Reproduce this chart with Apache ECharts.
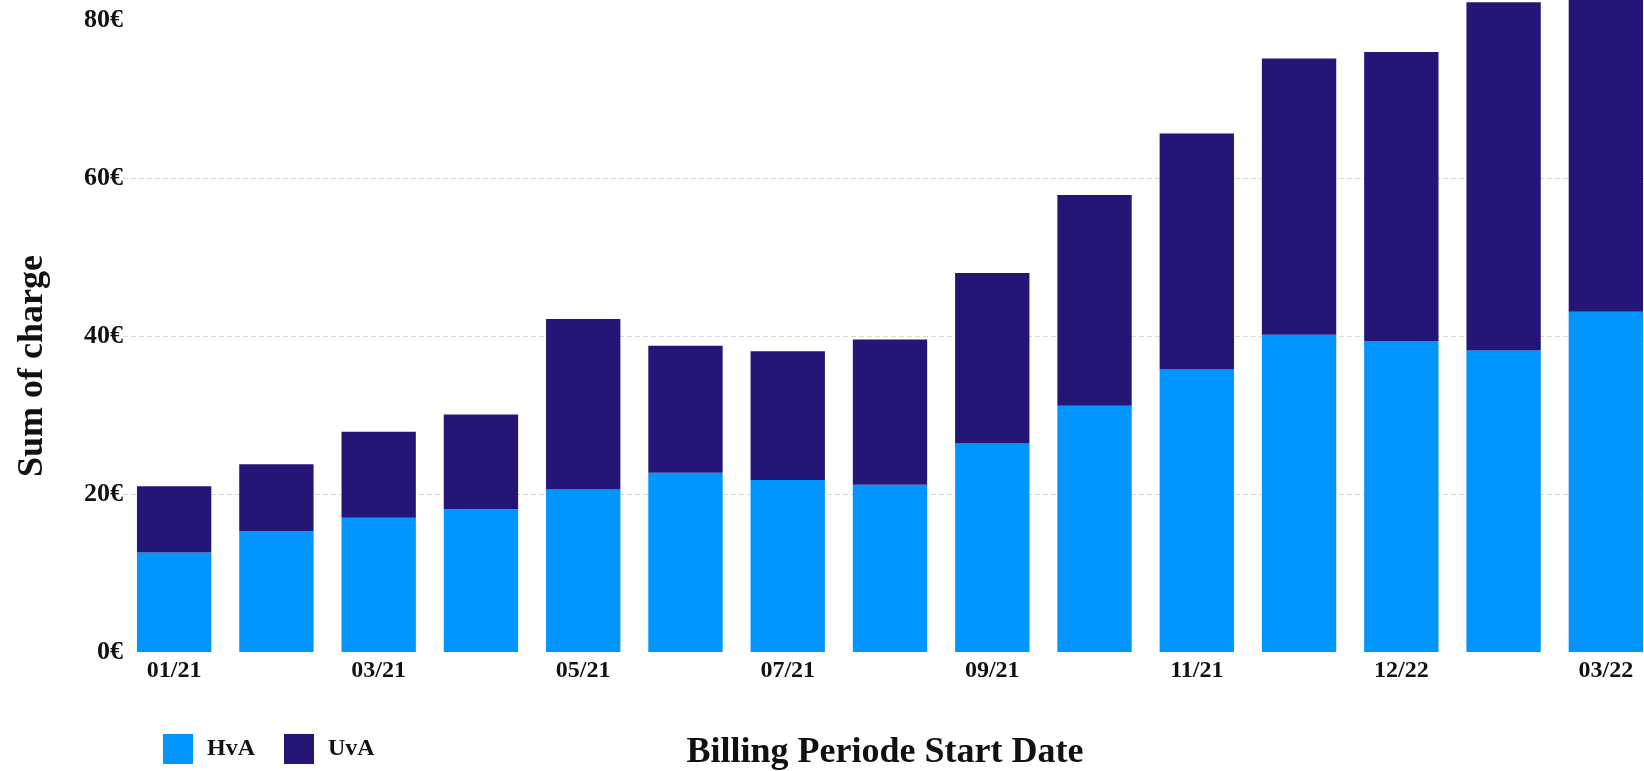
<!DOCTYPE html>
<html>
<head>
<meta charset="utf-8">
<script src="https://cdn.jsdelivr.net/npm/echarts@6/dist/echarts.min.js"></script>
<style>
html,body{margin:0;padding:0;background:#fff;}
#chart{width:1644px;height:771px;}
</style>
</head>
<body>
<div id="chart"></div>
<script>
const categories = ['01/21','02/21','03/21','04/21','05/21','06/21','07/21','08/21','09/21','10/21','11/21','12/21','12/22','02/22','03/22'];
const hvaValues = [12.6, 15.3, 17.0, 18.1, 20.6, 22.7, 21.8, 21.2, 26.4, 31.2, 35.8, 40.2, 39.4, 38.2, 43.1];
const uvaValues = [8.4, 8.5, 10.9, 12.0, 21.6, 16.1, 16.3, 18.4, 21.6, 26.7, 29.9, 35.0, 36.6, 44.1, 40.5];
const yTicks = [0, 20, 40, 60, 80];
const seriesNames = ['HvA', 'UvA'];
const xTitle = 'Billing Periode Start Date';
const yTitle = 'Sum of charge';

const FONT = '"Liberation Serif", "Times New Roman", serif';
const chart = echarts.init(document.getElementById('chart'));
chart.setOption({
  animation: false,
  backgroundColor: '#ffffff',
  grid: { left: 123, width: 1534, top: 0, bottom: 119, containLabel: false, outerBoundsMode: 'none' },
  legend: {
    left: 163, top: 734, padding: 0,
    itemWidth: 30, itemHeight: 30, itemGap: 29,
    icon: 'rect',
    data: seriesNames,
    textStyle: { fontFamily: FONT, fontWeight: 'bold', fontSize: 24, color: '#111', padding: [0, 0, 0, 9] }
  },
  xAxis: {
    type: 'category',
    data: categories,
    axisLine: { show: false },
    axisTick: { show: false },
    axisLabel: { interval: 1, margin: 7, fontFamily: FONT, fontWeight: 'bold', fontSize: 24, color: '#111' }
  },
  yAxis: {
    type: 'value',
    min: yTicks[0],
    max: 82.6,
    interval: 20,
    axisLine: { show: false },
    axisTick: { show: false },
    axisLabel: {
      margin: 0, showMaxLabel: false,
      fontFamily: FONT, fontWeight: 'bold', fontSize: 26, color: '#111',
      formatter: function (v) { return yTicks.indexOf(v) >= 0 ? v + '€' : ''; }
    },
    splitLine: {
      show: true,
      lineStyle: { type: [5, 3], width: 1, color: ['rgba(0,0,0,0)', '#d8d8d8', '#d8d8d8', '#d8d8d8', 'rgba(0,0,0,0)', 'rgba(0,0,0,0)'] }
    }
  },
  graphic: [
    { type: 'text', x: 33, y: 366, rotation: Math.PI / 2,
      style: { text: yTitle, textAlign: 'center', textVerticalAlign: 'middle', font: 'bold 36px ' + FONT, fill: '#111' } },
    { type: 'text', x: 885, y: 753,
      style: { text: xTitle, textAlign: 'center', textVerticalAlign: 'middle', font: 'bold 36px ' + FONT, fill: '#111' } }
  ],
  series: [
    { name: seriesNames[0], type: 'bar', stack: 'total', data: hvaValues, barWidth: '72.7%',
      itemStyle: { color: '#0095ff' } },
    { name: seriesNames[1], type: 'bar', stack: 'total', data: uvaValues, barWidth: '72.7%',
      itemStyle: { color: '#241677' } }
  ]
});
</script>
</body>
</html>
